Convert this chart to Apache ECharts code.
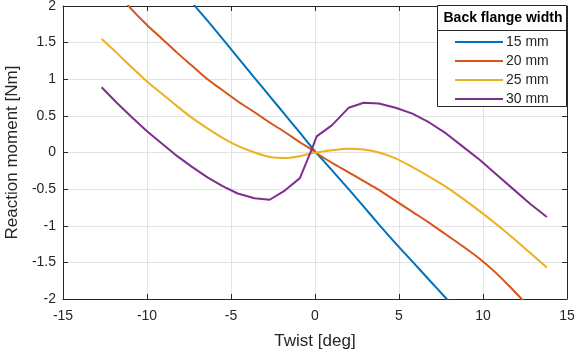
<!DOCTYPE html>
<html>
<head>
<meta charset="utf-8">
<script src="https://cdn.jsdelivr.net/npm/echarts@6/dist/echarts.min.js"></script>
<style>
  html, body { margin: 0; padding: 0; background: #fff; }
  #chart { width: 577px; height: 356px; }
</style>
</head>
<body>
<div id="chart"></div>
<script>
// twist samples [deg], shared by all curves
var twist = [-12.7, -11.8, -10.9, -10, -9.1, -8.2, -7.3, -6.4, -5.5, -4.6, -3.6, -2.7, -1.8, -0.9, -0.2,
             0.1, 1.0, 2.0, 2.9, 3.8, 4.8, 5.8, 6.8, 7.8, 8.8, 9.8, 10.8, 11.8, 12.8, 13.8];

// reaction moment [Nm] per back flange width
var m15 = [3.45, 3.2, 2.96, 2.72, 2.48, 2.28, 2.04, 1.8, 1.55, 1.3, 1.02, 0.77, 0.52, 0.27, 0.07,
           -0.01, -0.24, -0.5, -0.74, -0.98, -1.24, -1.49, -1.74, -1.99, -2.24, -2.49, -2.74, -2.99, -3.24, -3.49];
var m20 = [2.46, 2.2, 1.95, 1.74, 1.55, 1.36, 1.18, 1.0, 0.85, 0.7, 0.55, 0.41, 0.28, 0.14, 0.04,
           -0.01, -0.14, -0.27, -0.39, -0.51, -0.66, -0.81, -0.96, -1.12, -1.28, -1.45, -1.65, -1.88, -2.12, -2.36];
var m25 = [1.55, 1.36, 1.16, 0.97, 0.8, 0.63, 0.47, 0.33, 0.2, 0.09, 0.0, -0.06, -0.075, -0.05, -0.01,
           0.0, 0.03, 0.05, 0.04, 0.0, -0.08, -0.2, -0.33, -0.47, -0.63, -0.8, -0.98, -1.17, -1.37, -1.57];
var m30 = [0.89, 0.68, 0.48, 0.29, 0.12, -0.05, -0.2, -0.34, -0.46, -0.56, -0.625, -0.645, -0.52, -0.35, 0.04,
           0.22, 0.37, 0.61, 0.68, 0.67, 0.61, 0.53, 0.41, 0.26, 0.08, -0.1, -0.3, -0.5, -0.7, -0.88];

var names = ['15 mm', '20 mm', '25 mm', '30 mm'];
var colors = ['#0072BD', '#D95319', '#EDB120', '#7E2F8E'];
var moments = [m15, m20, m25, m30];
var smoothing = [0.3, 0.3, 0.3, false];

var xTicks = { min: -15, max: 15, interval: 5 };
var yTicks = { min: -2, max: 2, interval: 0.5 };

var axisColor = '#262626';
var font = 'Liberation Sans, Arial, sans-serif';

function pairs(ys) {
  return twist.map(function (t, i) { return [t, ys[i]]; });
}

var myChart = echarts.init(document.getElementById('chart'), null, { renderer: 'canvas' });

var series = moments.map(function (ys, k) {
  return {
    name: names[k],
    type: 'line',
    data: pairs(ys),
    smooth: smoothing[k],
    showSymbol: false,
    symbol: 'none',
    clip: true,
    color: colors[k],
    lineStyle: { width: 2, color: colors[k] },
    xAxisIndex: 0,
    yAxisIndex: 0
  };
});

var option = {
  animation: false,
  backgroundColor: '#fff',
  grid: { left: 63, right: 10, top: 6, bottom: 57, containLabel: false, outerBoundsMode: 'none' },
  xAxis: [{
    type: 'value',
    min: xTicks.min, max: xTicks.max, interval: xTicks.interval,
    name: 'Twist [deg]',
    nameLocation: 'middle',
    nameGap: 34,
    nameTextStyle: { color: axisColor, fontSize: 17, fontFamily: font },
    axisLine: { show: true, onZero: false, lineStyle: { color: axisColor, width: 1 } },
    axisTick: { show: true, inside: true, length: 5, lineStyle: { color: axisColor } },
    axisLabel: { color: axisColor, fontSize: 14, fontFamily: font, margin: 10 },
    splitLine: { show: true, lineStyle: { color: '#e3e3e3', width: 1 } }
  }, {
    type: 'value',
    position: 'top',
    min: xTicks.min, max: xTicks.max, interval: xTicks.interval,
    axisLine: { show: true, onZero: false, lineStyle: { color: axisColor, width: 1 } },
    axisTick: { show: true, inside: true, length: 5, lineStyle: { color: axisColor } },
    axisLabel: { show: false },
    splitLine: { show: false }
  }],
  yAxis: [{
    type: 'value',
    min: yTicks.min, max: yTicks.max, interval: yTicks.interval,
    name: 'Reaction moment [Nm]',
    nameLocation: 'middle',
    nameGap: 41,
    nameTextStyle: { color: axisColor, fontSize: 17, fontFamily: font },
    axisLine: { show: true, onZero: false, lineStyle: { color: axisColor, width: 1 } },
    axisTick: { show: true, inside: true, length: 5, lineStyle: { color: axisColor } },
    axisLabel: { color: axisColor, fontSize: 14, fontFamily: font, margin: 7 },
    splitLine: { show: true, lineStyle: { color: '#e3e3e3', width: 1 } }
  }, {
    type: 'value',
    position: 'right',
    min: yTicks.min, max: yTicks.max, interval: yTicks.interval,
    axisLine: { show: true, onZero: false, lineStyle: { color: axisColor, width: 1 } },
    axisTick: { show: true, inside: true, length: 5, lineStyle: { color: axisColor } },
    axisLabel: { show: false },
    splitLine: { show: false }
  }],
  legend: {
    orient: 'vertical',
    left: 455,
    top: 35,
    padding: 0,
    itemGap: 5,
    itemWidth: 48,
    itemHeight: 2,
    icon: 'rect',
    data: names,
    textStyle: { color: axisColor, fontSize: 14, fontFamily: font, padding: [0, 0, 0, -2] }
  },
  graphic: [{
    type: 'rect',
    z: 3,
    shape: { x: 437.5, y: 5.5, width: 129, height: 101 },
    style: { fill: '#fff', stroke: axisColor, lineWidth: 1 }
  }, {
    type: 'line',
    z: 3,
    shape: { x1: 437.5, y1: 30.5, x2: 566.5, y2: 30.5 },
    style: { stroke: axisColor, lineWidth: 1 }
  }, {
    type: 'text',
    z: 3,
    x: 503,
    y: 18.5,
    style: {
      text: 'Back flange width',
      fill: '#000',
      font: 'bold 14px ' + font,
      align: 'center',
      verticalAlign: 'middle'
    }
  }],
  series: series
};

myChart.setOption(option, true);
</script>
</body>
</html>
